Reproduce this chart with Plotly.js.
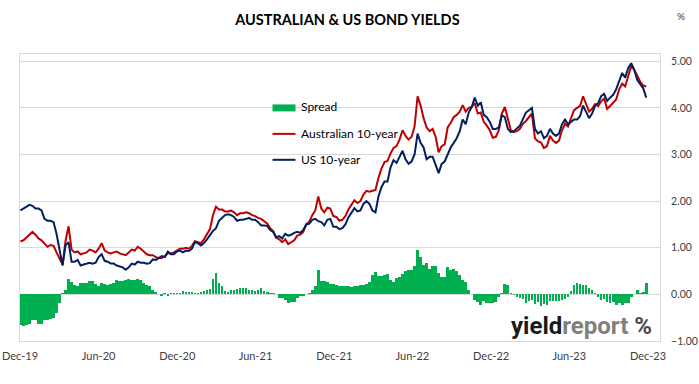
<!DOCTYPE html>
<html>
<head>
<meta charset="utf-8">
<script src="https://cdn.plot.ly/plotly-3.0.1.min.js"></script>
<style>html,body{margin:0;padding:0;background:#fff;}#chart{width:699px;height:384px;}</style>
</head>
<body>
<div id="chart"></div>
<script>
// Weekly observations starting Monday 2 Dec 2019
const startDate = '2019-12-02';
const stepDays = 7;

const us10y = [
1.80,1.84,1.88,1.92,1.90,
1.84,1.84,1.80,1.62,1.58,1.58,1.55,1.30,0.95,0.62,1.05,1.12,0.70,0.70,0.74,0.62,0.64,0.66,0.68,0.66,0.68,0.80,0.86,0.72,0.70,0.66,0.66,0.62,0.60,0.58,0.53,0.58,0.66,0.64,0.70,0.68,0.68,0.66,0.67,0.75,0.74,0.78,0.82,0.80,0.92,0.86,0.86,0.92,0.94,0.90,0.94,0.93,
0.98,1.12,1.10,1.05,1.10,1.18,1.28,1.36,1.42,1.58,1.64,1.70,1.72,1.70,1.66,1.58,1.60,1.60,1.62,1.64,1.60,1.60,1.55,1.48,1.48,1.47,1.38,1.34,1.22,1.25,1.20,1.30,1.26,1.28,1.32,1.34,1.32,1.38,1.50,1.52,1.60,1.62,1.57,1.55,1.48,1.60,1.62,1.45,1.45,1.40,1.42,1.50,
1.65,1.76,1.85,1.78,1.80,1.94,2.00,1.94,1.80,1.76,2.10,2.30,2.42,2.42,2.72,2.88,2.82,2.95,3.08,2.90,2.80,2.85,3.00,3.45,3.25,3.15,2.90,2.95,2.95,2.78,2.60,2.80,2.85,3.00,3.15,3.25,3.35,3.50,3.75,3.65,3.90,4.02,4.22,4.05,4.12,3.85,3.80,3.70,3.55,3.55,3.58,3.84,
3.80,3.55,3.48,3.50,3.55,3.62,3.76,3.90,3.95,4.00,3.55,3.45,3.50,3.35,3.40,3.55,3.45,3.40,3.45,3.65,3.75,3.65,3.70,3.75,3.75,3.82,4.05,3.90,3.78,3.88,4.05,4.10,4.25,4.30,4.15,4.22,4.28,4.40,4.58,4.75,4.65,4.85,4.96,4.82,4.60,4.52,4.42,4.22
];

const aus10y = [
1.14,1.16,1.22,1.28,1.34,
1.28,1.20,1.16,1.08,1.02,1.06,1.04,0.90,0.76,0.64,1.15,1.46,0.96,0.90,0.92,0.86,0.88,0.90,0.96,0.94,0.90,0.98,1.10,0.94,0.90,0.88,0.90,0.92,0.88,0.86,0.84,0.90,0.96,0.94,1.02,0.98,0.92,0.86,0.84,0.84,0.80,0.78,0.78,0.82,0.88,0.88,0.90,0.94,0.98,0.98,1.00,0.98,
1.04,1.14,1.12,1.10,1.18,1.28,1.40,1.70,1.88,1.82,1.82,1.78,1.78,1.80,1.76,1.70,1.74,1.74,1.76,1.74,1.70,1.68,1.64,1.62,1.56,1.52,1.42,1.36,1.22,1.18,1.12,1.18,1.08,1.12,1.16,1.26,1.28,1.34,1.50,1.56,1.70,1.80,2.10,1.84,1.76,1.86,1.84,1.68,1.66,1.58,1.60,1.68,
1.82,1.92,2.02,1.96,2.00,2.14,2.22,2.20,2.22,2.24,2.50,2.70,2.84,2.86,3.02,3.14,3.18,3.32,3.52,3.40,3.32,3.38,3.60,4.25,4.05,3.78,3.58,3.50,3.55,3.38,3.05,3.18,3.22,3.58,3.68,3.80,3.85,3.92,4.06,3.92,4.00,4.02,4.10,3.88,3.90,3.70,3.62,3.52,3.36,3.38,3.52,3.88,
4.02,3.75,3.52,3.48,3.50,3.55,3.66,3.72,3.80,3.88,3.35,3.28,3.26,3.14,3.18,3.40,3.30,3.25,3.30,3.52,3.66,3.60,3.78,3.95,4.00,4.04,4.25,4.10,3.92,3.98,4.08,4.04,4.14,4.20,3.98,4.04,4.12,4.18,4.40,4.52,4.46,4.66,4.90,4.82,4.70,4.56,4.48,4.46
];

const spread = [
-0.66,-0.68,-0.66,-0.64,-0.56,
-0.56,-0.64,-0.64,-0.54,-0.56,-0.52,-0.51,-0.40,-0.19,0.02,0.10,0.34,0.26,0.20,0.18,0.24,0.24,0.24,0.28,0.28,0.22,0.18,0.24,0.22,0.20,0.22,0.24,0.30,0.28,0.28,0.31,0.32,0.30,0.30,0.32,0.30,0.24,0.20,0.17,0.09,0.06,0.00,-0.04,0.02,-0.04,0.02,0.04,0.02,0.04,0.08,0.06,0.05,
0.06,0.02,0.02,0.05,0.08,0.10,0.12,0.34,0.46,0.24,0.18,0.08,0.06,0.10,0.10,0.12,0.14,0.14,0.14,0.10,0.10,0.08,0.09,0.14,0.08,0.05,0.04,0.02,0.00,-0.07,-0.08,-0.12,-0.18,-0.16,-0.16,-0.08,-0.04,-0.04,0.00,0.04,0.10,0.18,0.53,0.29,0.28,0.26,0.22,0.23,0.21,0.18,0.18,0.18,
0.17,0.16,0.17,0.18,0.20,0.20,0.22,0.26,0.42,0.48,0.40,0.40,0.42,0.44,0.30,0.26,0.36,0.37,0.44,0.50,0.52,0.53,0.60,0.96,0.80,0.63,0.68,0.55,0.60,0.60,0.45,0.38,0.37,0.58,0.53,0.55,0.50,0.42,0.31,0.27,0.10,0.00,-0.12,-0.17,-0.22,-0.15,-0.18,-0.18,-0.19,-0.17,-0.06,0.04,
0.22,0.20,0.04,-0.02,-0.05,-0.07,-0.10,-0.18,-0.15,-0.12,-0.20,-0.17,-0.24,-0.21,-0.22,-0.15,-0.15,-0.15,-0.15,-0.13,-0.09,-0.05,0.08,0.20,0.25,0.22,0.20,0.20,0.14,0.10,0.03,-0.06,-0.11,-0.10,-0.17,-0.18,-0.16,-0.22,-0.18,-0.23,-0.19,-0.19,-0.06,0.00,0.10,0.04,0.06,0.24
];

const tickDates = ['2019-12-01','2020-06-01','2020-12-01','2021-06-01','2021-12-01','2022-06-01','2022-12-01','2023-06-01','2023-12-01'];
const tickLabels = ['Dec-19','Jun-20','Dec-20','Jun-21','Dec-21','Jun-22','Dec-22','Jun-23','Dec-23'];
const yTicks = [-1,0,1,2,3,4,5];

const legendNames = ['Spread','Australian 10-year','US 10-year'];
const colors = {spread:'#00B050', aus:'#C00000', us:'#002060'};

// build date axis values
const dates = [];
const t0 = Date.parse(startDate + 'T00:00:00Z');
for (let i = 0; i < us10y.length; i++) {
  dates.push(new Date(t0 + i * stepDays * 86400000).toISOString().slice(0,10));
}

const FONT = 'Lato, "Open Sans", sans-serif';

const traces = [
  {type:'bar', x:dates, y:spread, name:legendNames[0], marker:{color:colors.spread, line:{width:0}}, width:6.3*86400000, showlegend:false, hoverinfo:'skip'},
  {type:'scatter', mode:'lines', x:dates, y:aus10y, name:legendNames[1], line:{color:colors.aus, width:2}, showlegend:false},
  {type:'scatter', mode:'lines', x:dates, y:us10y, name:legendNames[2], line:{color:colors.us, width:2}, showlegend:false}
];

// paper-coordinate helpers for legend/watermark placement
const L = 20, R = 660, T = 53.5, B = 341;
const px = v => (v - L) / (R - L);
const py = v => (B - v) / (B - T);

const layout = {
  width:699, height:384,
  margin:{l:L, r:699-R, t:T, b:384-B, pad:0},
  paper_bgcolor:'#fff', plot_bgcolor:'#fff',
  font:{family:FONT, size:11, color:'#404040'},
  title:{text:'<b>AUSTRALIAN & US BOND YIELDS</b>', font:{family:FONT, size:14.5, color:'#000'}, x:0.497, xref:'container', xanchor:'center', y:1-20/384, yref:'container', yanchor:'middle'},
  bargap:0,
  xaxis:{type:'date', range:['2019-12-01','2023-12-29'], tickvals:tickDates, ticktext:tickLabels, tickmode:'array',
         showgrid:false, zeroline:false, showline:true, linecolor:'#D9D9D9', linewidth:1, mirror:true, ticks:'', ticklabelstandoff:5,
         tickfont:{family:FONT, size:11, color:'#404040'}, fixedrange:true},
  yaxis:{side:'right', range:[-1, (B-T)/46.7 - 1], tickvals:yTicks, tickformat:'.2f', showgrid:true, gridcolor:'#D9D9D9', gridwidth:1,
         zeroline:false, showline:true, linecolor:'#D9D9D9', linewidth:1, mirror:true, ticks:'', ticklabelstandoff:8,
         tickfont:{family:FONT, size:10.5, color:'#404040'}, fixedrange:true},
  shapes:[
    {type:'rect', xref:'paper', yref:'paper', x0:px(272.5), x1:px(295.5), y0:py(111), y1:py(104), fillcolor:colors.spread, line:{width:0}},
    {type:'line', xref:'paper', yref:'paper', x0:px(272.5), x1:px(295.5), y0:py(133.5), y1:py(133.5), line:{color:colors.aus, width:2}},
    {type:'line', xref:'paper', yref:'paper', x0:px(272.5), x1:px(295.5), y0:py(159.5), y1:py(159.5), line:{color:colors.us, width:2}}
  ],
  annotations:[
    {xref:'paper', yref:'paper', x:px(299), y:py(106), xanchor:'left', yanchor:'middle', showarrow:false, text:legendNames[0], font:{family:FONT, size:12, color:'#000'}},
    {xref:'paper', yref:'paper', x:px(299), y:py(133), xanchor:'left', yanchor:'middle', showarrow:false, text:legendNames[1], font:{family:FONT, size:12, color:'#000'}},
    {xref:'paper', yref:'paper', x:px(299), y:py(159), xanchor:'left', yanchor:'middle', showarrow:false, text:legendNames[2], font:{family:FONT, size:12, color:'#000'}},
    {xref:'paper', yref:'paper', x:px(681), y:py(15), xanchor:'center', yanchor:'middle', showarrow:false, text:'%', font:{family:FONT, size:10, color:'#404040'}},
    {xref:'paper', yref:'paper', x:px(654), y:py(326), xanchor:'right', yanchor:'middle', showarrow:false,
     text:'<b><span style="color:#1a1a1a">yield</span><span style="color:#808080">report</span> <span style="color:#4a4a4a">%</span></b>',
     font:{family:'Roboto, sans-serif', size:24}}
  ]
};

Plotly.newPlot('chart', traces, layout, {staticPlot:true, displayModeBar:false});
</script>
</body>
</html>
